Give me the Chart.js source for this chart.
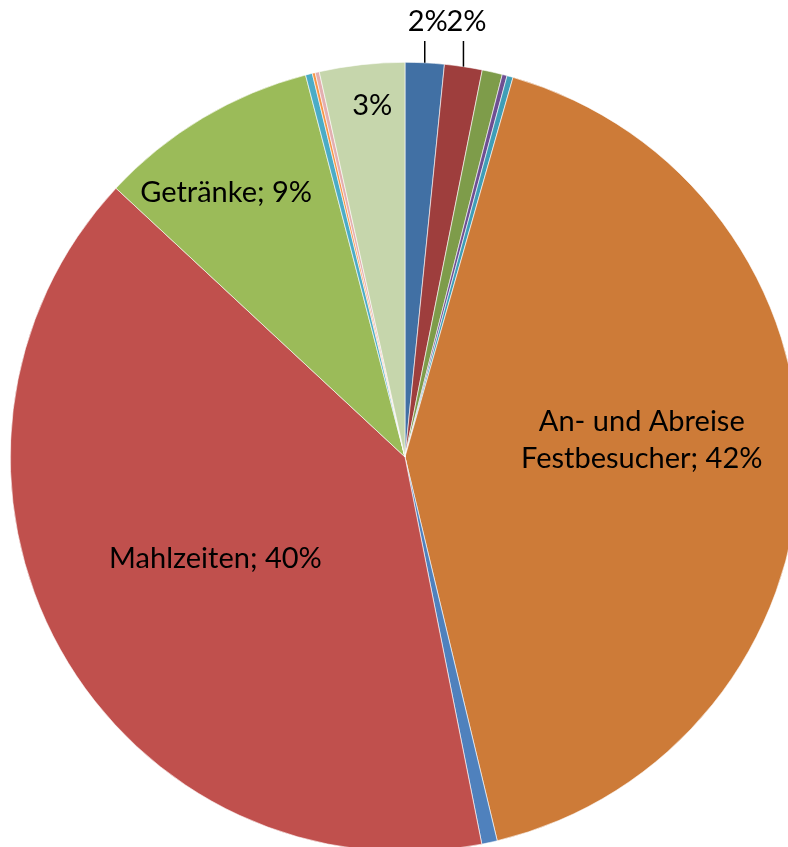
<!DOCTYPE html>
<html>
<head>
<meta charset="utf-8">
<script src="https://cdn.jsdelivr.net/npm/chart.js@4/dist/chart.umd.min.js"></script>
<style>
  html, body { margin: 0; padding: 0; background: #fff; overflow: hidden; }
  #wrap { position: absolute; left: 0; top: 0; width: 810px; height: 914px; }
</style>
</head>
<body>
<div id="wrap"><canvas id="pie"></canvas></div>
<script>
// Anteile in %, im Uhrzeigersinn ab 12 Uhr
const CATEGORIES = [
  "Posten 1", "Posten 2", "Posten 3", "Posten 4", "Posten 5",
  "An- und Abreise Festbesucher", "Posten 7", "Mahlzeiten", "Getränke",
  "Posten 10", "Posten 11", "Posten 12", "Posten 13",
];
const VALUES = [1.6, 1.55, 0.83, 0.2, 0.25, 42.0, 0.64, 40.2, 9.06, 0.28, 0.12, 0.17, 3.5];
const LABELS = [
  ["2%"], ["2%"], null, null, null,
  ["An- und Abreise", "Festbesucher; 42%"], null, ["Mahlzeiten; 40%"], ["Getränke; 9%"],
  null, null, null, ["3%"],
];
const COLORS = [
  "#4170A4", "#9E3E3D", "#7E9C4A", "#6E4F92", "#3F9EB7",
  "#CD7B38", "#4F81BD", "#C0504D", "#9BBB59",
  "#4BACC6", "#F79646", "#E3AFB0", "#C6D6AC",
];

// Position der Beschriftung relativ zum Radius; outside = mit Führungslinie oben
const LABEL_POS = {
  0: { outside: true }, 1: { outside: true },
  5: { r: 0.6, dy: -22 }, 7: { r: 0.55, dy: -4 },
  8: { r: 0.8, dx: -17, dy: 7 }, 12: { r: 0.9, dx: 6, dy: 2 },
};

const FONT = "29px Lato";
const LINE_H = 37;

const labelPlugin = {
  id: "pieLabels",
  afterDatasetsDraw(chart) {
    const ctx = chart.ctx;
    const meta = chart.getDatasetMeta(0);
    ctx.save();
    ctx.font = FONT;
    ctx.fillStyle = "#000";
    ctx.textAlign = "center";
    ctx.textBaseline = "middle";
    meta.data.forEach((arc, i) => {
      const lines = LABELS[i];
      if (!lines) return;
      const p = arc.getProps(["x", "y", "startAngle", "endAngle", "outerRadius"], true);
      const mid = (p.startAngle + p.endAngle) / 2;
      const pos = LABEL_POS[i];
      if (pos.outside) {
        const ex = p.x + Math.cos(mid) * p.outerRadius;
        const ey = p.y + Math.sin(mid) * p.outerRadius;
        ctx.strokeStyle = "#000";
        ctx.lineWidth = 1.5;
        ctx.beginPath();
        ctx.moveTo(ex, ey);
        ctx.lineTo(ex, 41);
        ctx.stroke();
        ctx.fillText(lines[0], ex + 3, 22);
        return;
      }
      const cx = p.x + Math.cos(mid) * p.outerRadius * pos.r + (pos.dx || 0);
      const cy = p.y + Math.sin(mid) * p.outerRadius * pos.r + (pos.dy || 0);
      lines.forEach((t, k) => {
        ctx.fillText(t, cx, cy + (k - (lines.length - 1) / 2) * LINE_H);
      });
    });
    ctx.restore();
  },
};

new Chart(document.getElementById("pie"), {
  type: "pie",
  data: {
    labels: CATEGORIES,
    datasets: [{
      data: VALUES,
      backgroundColor: COLORS,
      borderColor: "#ffffff",
      borderWidth: 0.6,
    }],
  },
  options: {
    responsive: true,
    maintainAspectRatio: false,
    animation: false,
    layout: { padding: { left: 10, right: 10, top: 62, bottom: 62 } },
    plugins: {
      legend: { display: false },
      tooltip: { enabled: false },
    },
  },
  plugins: [labelPlugin],
});
</script>
</body>
</html>
